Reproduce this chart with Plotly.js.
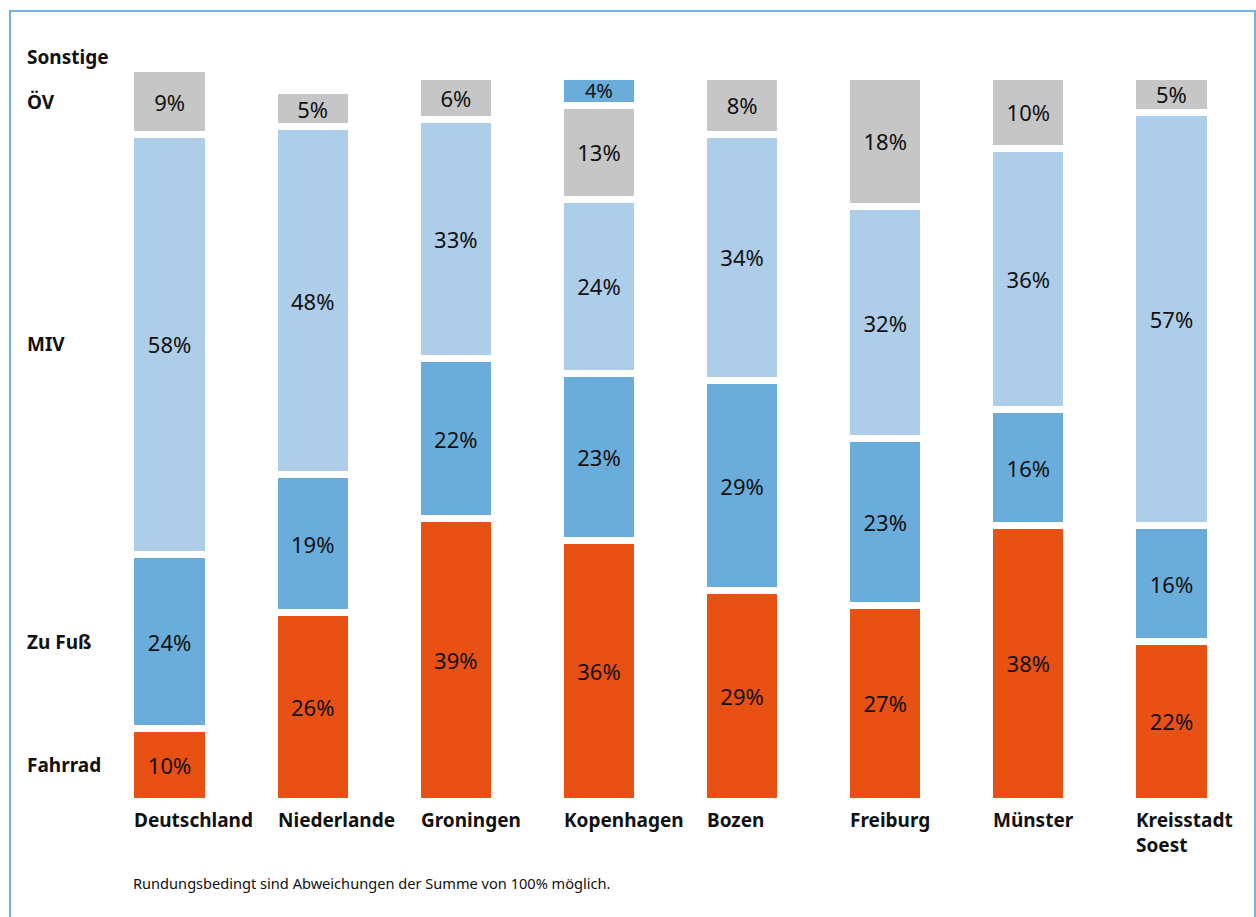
<!DOCTYPE html>
<html>
<head>
<meta charset="utf-8">
<script src="https://cdn.plot.ly/plotly-3.0.1.min.js"></script>
<style>
  html, body { margin: 0; padding: 0; overflow: hidden; background: #ffffff; }
  #chart { width: 1256px; height: 917px; position: absolute; left: 0; top: 0; }
  #frame { position: absolute; left: 9px; top: 10px; width: 1247px; height: 1000px;
           box-sizing: border-box; border: 2px solid #74b3e0; pointer-events: none; z-index: 10; }
</style>
</head>
<body>
<div id="chart"></div>
<div id="frame"></div>
<script>
// ---- data ----
const categories = ["Deutschland", "Niederlande", "Groningen", "Kopenhagen", "Bozen", "Freiburg", "Münster", "Kreisstadt Soest"];
const categoryLabels = ["Deutschland", "Niederlande", "Groningen", "Kopenhagen", "Bozen", "Freiburg", "Münster", "Kreisstadt<br>Soest"];
const fahrrad  = [10, 26, 39, 36, 29, 27, 38, 22];
const zuFuss   = [24, 19, 22, 23, 29, 23, 16, 16];
const miv      = [58, 48, 33, 24, 34, 32, 36, 57];
const oev      = [9, 5, 6, 13, 8, 18, 10, 5];
const sonstige = [null, null, null, 4, null, null, null, null];
const seriesNames = ["Fahrrad", "Zu Fuß", "MIV", "ÖV", "Sonstige"];
const footnote = "Rundungsbedingt sind Abweichungen der Summe von 100% möglich.";

// ---- styles ----
const colors = ["#e85014", "#6aaddb", "#aecde8", "#c6c6c7", "#6aaddb"];
const FONT = "Noto Sans, sans-serif";
const TXT = "#111111";
const bargap = 0.46;
const lineW = 7;

const series = [fahrrad, zuFuss, miv, oev, sonstige];
const traces = series.map((vals, k) => ({
  type: "bar",
  name: seriesNames[k],
  x: categories,
  y: vals,
  marker: { color: colors[k], line: { color: "#ffffff", width: lineW } },
  texttemplate: "%{y}%",
  textposition: "inside",
  insidetextanchor: "middle",
  textangle: 0,
  constraintext: "none",
  textfont: { family: FONT, size: k === 4 ? 20 : 22, color: TXT },
  hoverinfo: "skip"
}));

const annotations = [];
// category labels, left-aligned under each bar
categoryLabels.forEach((lab, i) => {
  annotations.push({
    x: i - (1 - bargap) / 2, y: 0, xref: "x", yref: "y",
    xanchor: "left", yanchor: "top", align: "left",
    xshift: lineW / 2 - 2, yshift: -4,
    text: "<b>" + lab + "</b>", showarrow: false,
    font: { family: FONT, size: 19, color: TXT }
  });
});
// series labels on the left, aligned with Deutschland's segments
let cum = 0;
const deVals = series.map(s => s[0]);
deVals.forEach((v, k) => {
  let yy;
  if (v === null) { yy = cum + 1.6; } else { yy = cum + v / 2; cum += v; }
  annotations.push({
    x: 0, xref: "paper", xanchor: "left", xshift: -73,
    y: yy, yref: "y", yanchor: "middle",
    text: "<b>" + seriesNames[k] + "</b>", showarrow: false,
    font: { family: FONT, size: 19, color: TXT }
  });
});
// footnote
annotations.push({
  x: 0, xref: "paper", xanchor: "left", xshift: 33,
  y: 0, yref: "paper", yanchor: "middle", yshift: -82,
  text: footnote, showarrow: false,
  font: { family: FONT, size: 14.6, color: TXT }
});

const layout = {
  width: 1256, height: 917,
  margin: { l: 98, r: 13, t: 40, b: 116 },
  paper_bgcolor: "#ffffff", plot_bgcolor: "#ffffff",
  barmode: "stack", bargap: bargap,
  showlegend: false,
  xaxis: { type: "category", showticklabels: false, showgrid: false, zeroline: false, showline: false, ticks: "", range: [-0.5, 7.5] },
  yaxis: { range: [0, 105], showticklabels: false, showgrid: false, zeroline: false, showline: false, ticks: "" },
  annotations: annotations,
  font: { family: FONT, color: TXT }
};

Plotly.newPlot("chart", traces, layout, { staticPlot: true, displayModeBar: false });
</script>
</body>
</html>
